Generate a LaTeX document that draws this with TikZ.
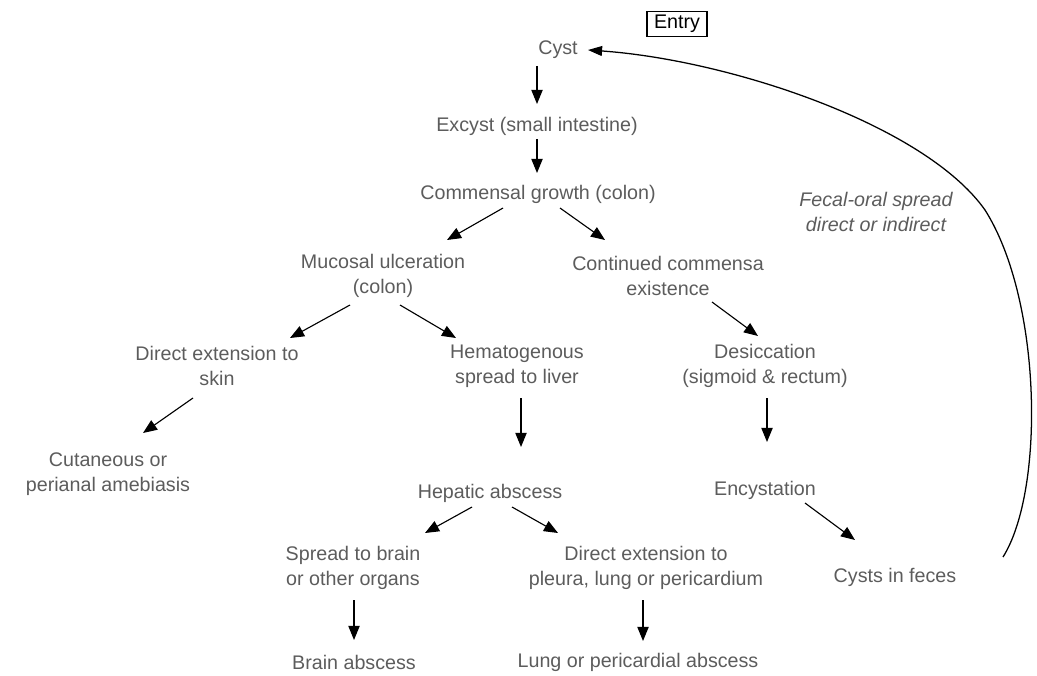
\documentclass[tikz,border=0pt]{standalone}
\usepackage{fontspec}
\setsansfont{Liberation Sans}
\usepackage{tikz}
\usetikzlibrary{arrows.meta, positioning}
\definecolor{scangray}{RGB}{92,92,92}
\tikzset{
    stagelbl/.style={align=center, text=scangray, inner sep=4pt, font=\sffamily\fontsize{14}{18}\selectfont},
    notelbl/.style={stagelbl, font=\sffamily\itshape\fontsize{14}{18}\selectfont},
    entrybox/.style={stagelbl, draw=black, line width=0.9pt, text=black, minimum width=1.5cm, minimum height=0.62cm, inner sep=2pt},
    stagearrow/.style={-{Triangle[length=10pt, width=8pt]}, line width=0.8pt, black},
    spreadarrow/.style={-{Triangle[length=10pt, width=7pt]}, line width=0.9pt, black}
}

\begin{document}
\begin{tikzpicture}[x=0.025cm, y=-0.025cm]
\useasboundingbox (0,0) rectangle (1037,676);

\node[entrybox] (entry) at (677,24) {Entry};
\node[stagelbl] (cyst) at (558,50) {Cyst};
\node[stagelbl] (excyst) at (537,126) {Excyst (small intestine)};
\node[stagelbl] (commensal) at (538,194) {Commensal growth (colon)};
\node[stagelbl] (mucosal) at (383,276) {Mucosal ulceration\\(colon)};
\node[stagelbl] (continued) at (668,276) {Continued commensa\\existence};
\node[stagelbl] (skin) at (217,366) {Direct extension to\\skin};
\node[stagelbl] (hemat) at (517,366) {Hematogenous\\spread to liver};
\node[stagelbl] (desic) at (765,366) {Desiccation\\(sigmoid \& rectum)};
\node[stagelbl] (cutan) at (108,474) {Cutaneous or\\perianal amebiasis};
\node[stagelbl] (hepatic) at (490,493) {Hepatic abscess};
\node[stagelbl] (encyst) at (765,490) {Encystation};
\node[stagelbl] (brainsp) at (353,568) {Spread to brain\\or other organs};
\node[stagelbl] (pleura) at (646,568) {Direct extension to\\pleura, lung or pericardium};
\node[stagelbl] (feces) at (895,577) {Cysts in feces};
\node[stagelbl] (brainab) at (354,662) {Brain abscess};
\node[stagelbl] (lungab) at (638,662) {Lung or pericardial abscess};
\node[notelbl] (fecal) at (876,212) {Fecal-oral spread\\direct or indirect};

\draw[stagearrow] ([shift={(-21,16)}]cyst.center) -- ([shift={(0,-22)}]excyst.center);
\draw[stagearrow] ([shift={(0,13)}]excyst.center) -- ([shift={(-1,-21)}]commensal.center);
\draw[stagearrow] ([shift={(-35,14)}]commensal.center) -- ([shift={(64,-36)}]mucosal.center);
\draw[stagearrow] ([shift={(22,14)}]commensal.center) -- ([shift={(-63,-36)}]continued.center);
\draw[stagearrow] ([shift={(-33,29)}]mucosal.center) -- ([shift={(73,-28)}]skin.center);
\draw[stagearrow] ([shift={(17,29)}]mucosal.center) -- ([shift={(-61,-28)}]hemat.center);
\draw[stagearrow] ([shift={(44,26)}]continued.center) -- ([shift={(-7,-30)}]desic.center);
\draw[stagearrow] ([shift={(-24,32)}]skin.center) -- ([shift={(35,-41)}]cutan.center);
\draw[stagearrow] ([shift={(4,32)}]hemat.center) -- ([shift={(31,-46)}]hepatic.center);
\draw[stagearrow] ([shift={(2,32)}]desic.center) -- ([shift={(2,-48)}]encyst.center);
\draw[stagearrow] ([shift={(-18,14)}]hepatic.center) -- ([shift={(72,-35)}]brainsp.center);
\draw[stagearrow] ([shift={(22,14)}]hepatic.center) -- ([shift={(-88,-35)}]pleura.center);
\draw[stagearrow] ([shift={(40,13)}]encyst.center) -- ([shift={(-40,-37)}]feces.center);
\draw[stagearrow] ([shift={(1,32)}]brainsp.center) -- ([shift={(0,-22)}]brainab.center);
\draw[stagearrow] ([shift={(-3,32)}]pleura.center) -- ([shift={(5,-21)}]lungab.center);
\draw[spreadarrow] ([shift={(108,-20)}]feces.center) .. controls (1045,490) and (1042,300) .. (985,210)
    .. controls (925,125) and (730,60) .. ([shift={(30,0)}]cyst.center);

\end{tikzpicture}
\end{document}
